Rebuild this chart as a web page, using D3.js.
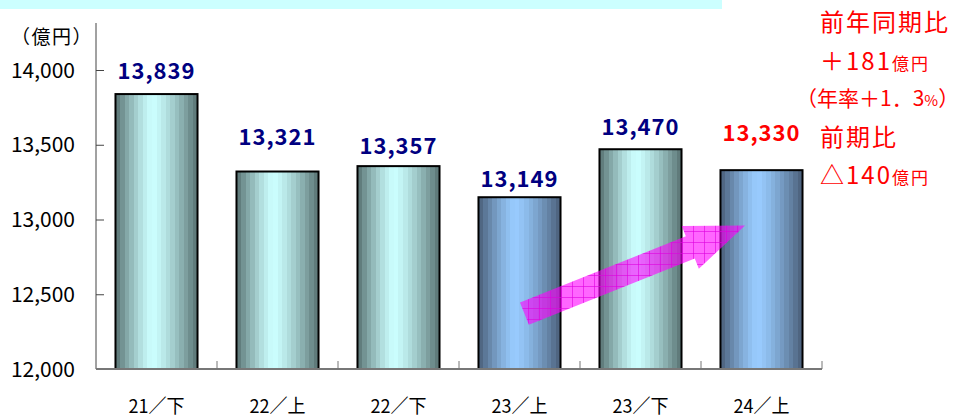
<!DOCTYPE html>
<html>
<head>
<meta charset="utf-8">
<script src="https://cdn.jsdelivr.net/npm/d3@7"></script>
<style>
body { margin: 0; background: #fff; }
svg { display: block; }
text { font-family: "Noto Sans CJK JP", "Noto Sans", sans-serif; }
</style>
</head>
<body>
<div id="chart"></div>
<script>
// data
const periods = ["21／下", "22／上", "22／下", "23／上", "23／下", "24／上"];
const sales = [13839, 13321, 13357, 13149, 13470, 13330];
const barKind = ["green", "green", "green", "blue", "green", "blue"];
const yTicks = [12000, 12500, 13000, 13500, 14000];
const unitLabel = "（億円）";
const notes = [
    [["前年同期比", 24]],
    [["＋181", 24], ["億円", 17]],
    [["（年率＋1．3", 21], ["%", 15], ["）", 21]],
    [["前期比", 24]],
    [["△140", 24], ["億円", 17]]
];

const dim = { width: 971, height: 418 };
const plot = { left: 96, right: 822, top: 23, bottom: 369 };

// how far each value label sits above its bar (as in the original slide)
const labelLift = [23, 34, 20, 18, 22, 37];

const svg = d3.select("#chart").append("svg")
    .attr("width", dim.width)
    .attr("height", dim.height);

const defs = svg.append("defs");

function stripes(id, edge, mid) {
    const g = defs.append("linearGradient").attr("id", id);
    const n = 18, c = 0.45;
    const ip = d3.interpolateRgb(mid, edge);
    for (let i = 0; i < n; i++) {
        const t0 = i / n, t1 = (i + 1) / n, tm = (t0 + t1) / 2;
        const d = tm < c ? (c - tm) / c : (tm - c) / (1 - c);
        const col = ip(Math.pow(d, 1.3));
        g.append("stop").attr("offset", t0).attr("stop-color", col);
        g.append("stop").attr("offset", t1).attr("stop-color", col);
    }
}
stripes("green", "#587272", "#ccffff");
stripes("blue", "#4a5e78", "#99ccff");

const pat = defs.append("pattern")
    .attr("id", "hatch")
    .attr("patternUnits", "userSpaceOnUse")
    .attr("width", 11)
    .attr("height", 11);
pat.append("rect")
    .attr("width", 11).attr("height", 11)
    .attr("fill", "#ff00ff").attr("fill-opacity", 0.6);
pat.append("path")
    .attr("d", "M0 0.5H11M0.5 0V11")
    .attr("stroke", "#e000e0").attr("stroke-opacity", 0.6)
    .attr("stroke-width", 1);

// top band
svg.append("rect")
    .attr("x", 0).attr("y", 0)
    .attr("width", 722).attr("height", 9)
    .attr("fill", "#ccffff");

const xScale = d3.scaleBand()
    .domain(periods)
    .range([plot.left, plot.right])
    .paddingInner(0.322)
    .paddingOuter(0.161);

const yScale = d3.scaleLinear()
    .domain([12000, 14000])
    .range([plot.bottom, 70]);

// y axis
const yAxis = svg.append("g")
    .attr("transform", `translate(${plot.left},0)`)
    .call(d3.axisRight(yScale).tickValues(yTicks).tickSize(8).tickFormat(""));
yAxis.select(".domain").remove();
yAxis.selectAll(".tick line").attr("stroke", "#444");
yAxis.append("line")
    .attr("y1", plot.top).attr("y2", plot.bottom)
    .attr("stroke", "#444");

svg.selectAll(".yLabel")
    .data(yTicks)
    .enter().append("text")
    .attr("class", "yLabel")
    .attr("x", 75)
    .attr("y", d => yScale(d))
    .attr("dy", "0.36em")
    .attr("text-anchor", "end")
    .attr("font-size", 21)
    .attr("fill", "#000")
    .text(d => d3.format(",")(d));

svg.append("text")
    .attr("x", 11)
    .attr("y", 37)
    .attr("dy", "0.36em")
    .attr("font-size", 19)
    .attr("letter-spacing", 1.5)
    .attr("fill", "#000")
    .text(unitLabel);

// bars
svg.selectAll(".bar")
    .data(sales)
    .enter().append("rect")
    .attr("class", "bar")
    .attr("x", (d, i) => xScale(periods[i]))
    .attr("y", d => yScale(d))
    .attr("width", xScale.bandwidth())
    .attr("height", d => yScale(12000) - yScale(d))
    .attr("fill", (d, i) => `url(#${barKind[i]})`)
    .attr("stroke", "#000")
    .attr("stroke-width", 2);

// x axis
svg.append("line")
    .attr("x1", plot.left).attr("x2", plot.right)
    .attr("y1", plot.bottom).attr("y2", plot.bottom)
    .attr("stroke", "#777")
    .attr("stroke-width", 2);

const boundary = d => xScale(d) - xScale.step() * xScale.paddingOuter() + xScale.step();
svg.selectAll(".xTick")
    .data(periods)
    .enter().append("line")
    .attr("class", "xTick")
    .attr("x1", boundary)
    .attr("x2", boundary)
    .attr("y1", plot.bottom - 8)
    .attr("y2", plot.bottom)
    .attr("stroke", "#777");

svg.selectAll(".xLabel")
    .data(periods)
    .enter().append("text")
    .attr("class", "xLabel")
    .attr("x", d => xScale(d) + xScale.bandwidth() / 2 - 28)
    .attr("y", 406)
    .attr("dy", "0.36em")
    .attr("font-size", 19)
    .attr("textLength", 56)
    .attr("lengthAdjust", "spacingAndGlyphs")
    .attr("fill", "#000")
    .text(d => d);

// value labels
svg.selectAll(".valLabel")
    .data(sales)
    .enter().append("text")
    .attr("class", "valLabel")
    .attr("x", (d, i) => xScale(periods[i]) + xScale.bandwidth() / 2)
    .attr("y", (d, i) => yScale(d) - labelLift[i])
    .attr("dy", "0.36em")
    .attr("text-anchor", "middle")
    .attr("font-size", 22)
    .attr("font-weight", "bold")
    .attr("letter-spacing", 1)
    .attr("fill", (d, i) => i === sales.length - 1 ? "#ff0000" : "#000080")
    .text(d => d3.format(",")(d));

// arrow from 23/上 up to 24/上
const arrowFrom = { period: "23／上", at: 0.56, value: 12370 };
const arrowTo = { period: "24／上", at: 0.3, value: 12960 };
const p0 = [xScale(arrowFrom.period) + xScale.bandwidth() * arrowFrom.at, yScale(arrowFrom.value)];
const p1 = [xScale(arrowTo.period) + xScale.bandwidth() * arrowTo.at, yScale(arrowTo.value)];
const len = Math.hypot(p1[0] - p0[0], p1[1] - p0[1]);
const dir = [(p1[0] - p0[0]) / len, (p1[1] - p0[1]) / len];
const nrm = [-dir[1], dir[0]];
const headLen = 59, headHalf = 23, bodyHalf = 12;
const hb = [p1[0] - dir[0] * headLen, p1[1] - dir[1] * headLen];
const off = (p, k) => [p[0] + nrm[0] * k, p[1] + nrm[1] * k];
const arrowPts = [
    off(p0, -bodyHalf), off(hb, -bodyHalf), off(hb, -headHalf), p1,
    off(hb, headHalf), off(hb, bodyHalf), off(p0, bodyHalf)
];
svg.append("path")
    .attr("d", d3.line()(arrowPts) + "Z")
    .attr("fill", "url(#hatch)");

// note on the right
const noteY = [25, 64, 100, 140, 178];
const noteX = [820, 820, 796, 820, 820];
const noteSpacing = [2, 2, 0, 2, 2];
notes.forEach((line, i) => {
    const t = svg.append("text")
        .attr("x", noteX[i])
        .attr("y", noteY[i])
        .attr("dy", "0.36em")
        .attr("letter-spacing", noteSpacing[i])
        .attr("fill", "#ff0000");
    line.forEach(([s, size]) => {
        t.append("tspan")
            .attr("font-size", size)
            .text(s);
    });
});
</script>
</body>
</html>
